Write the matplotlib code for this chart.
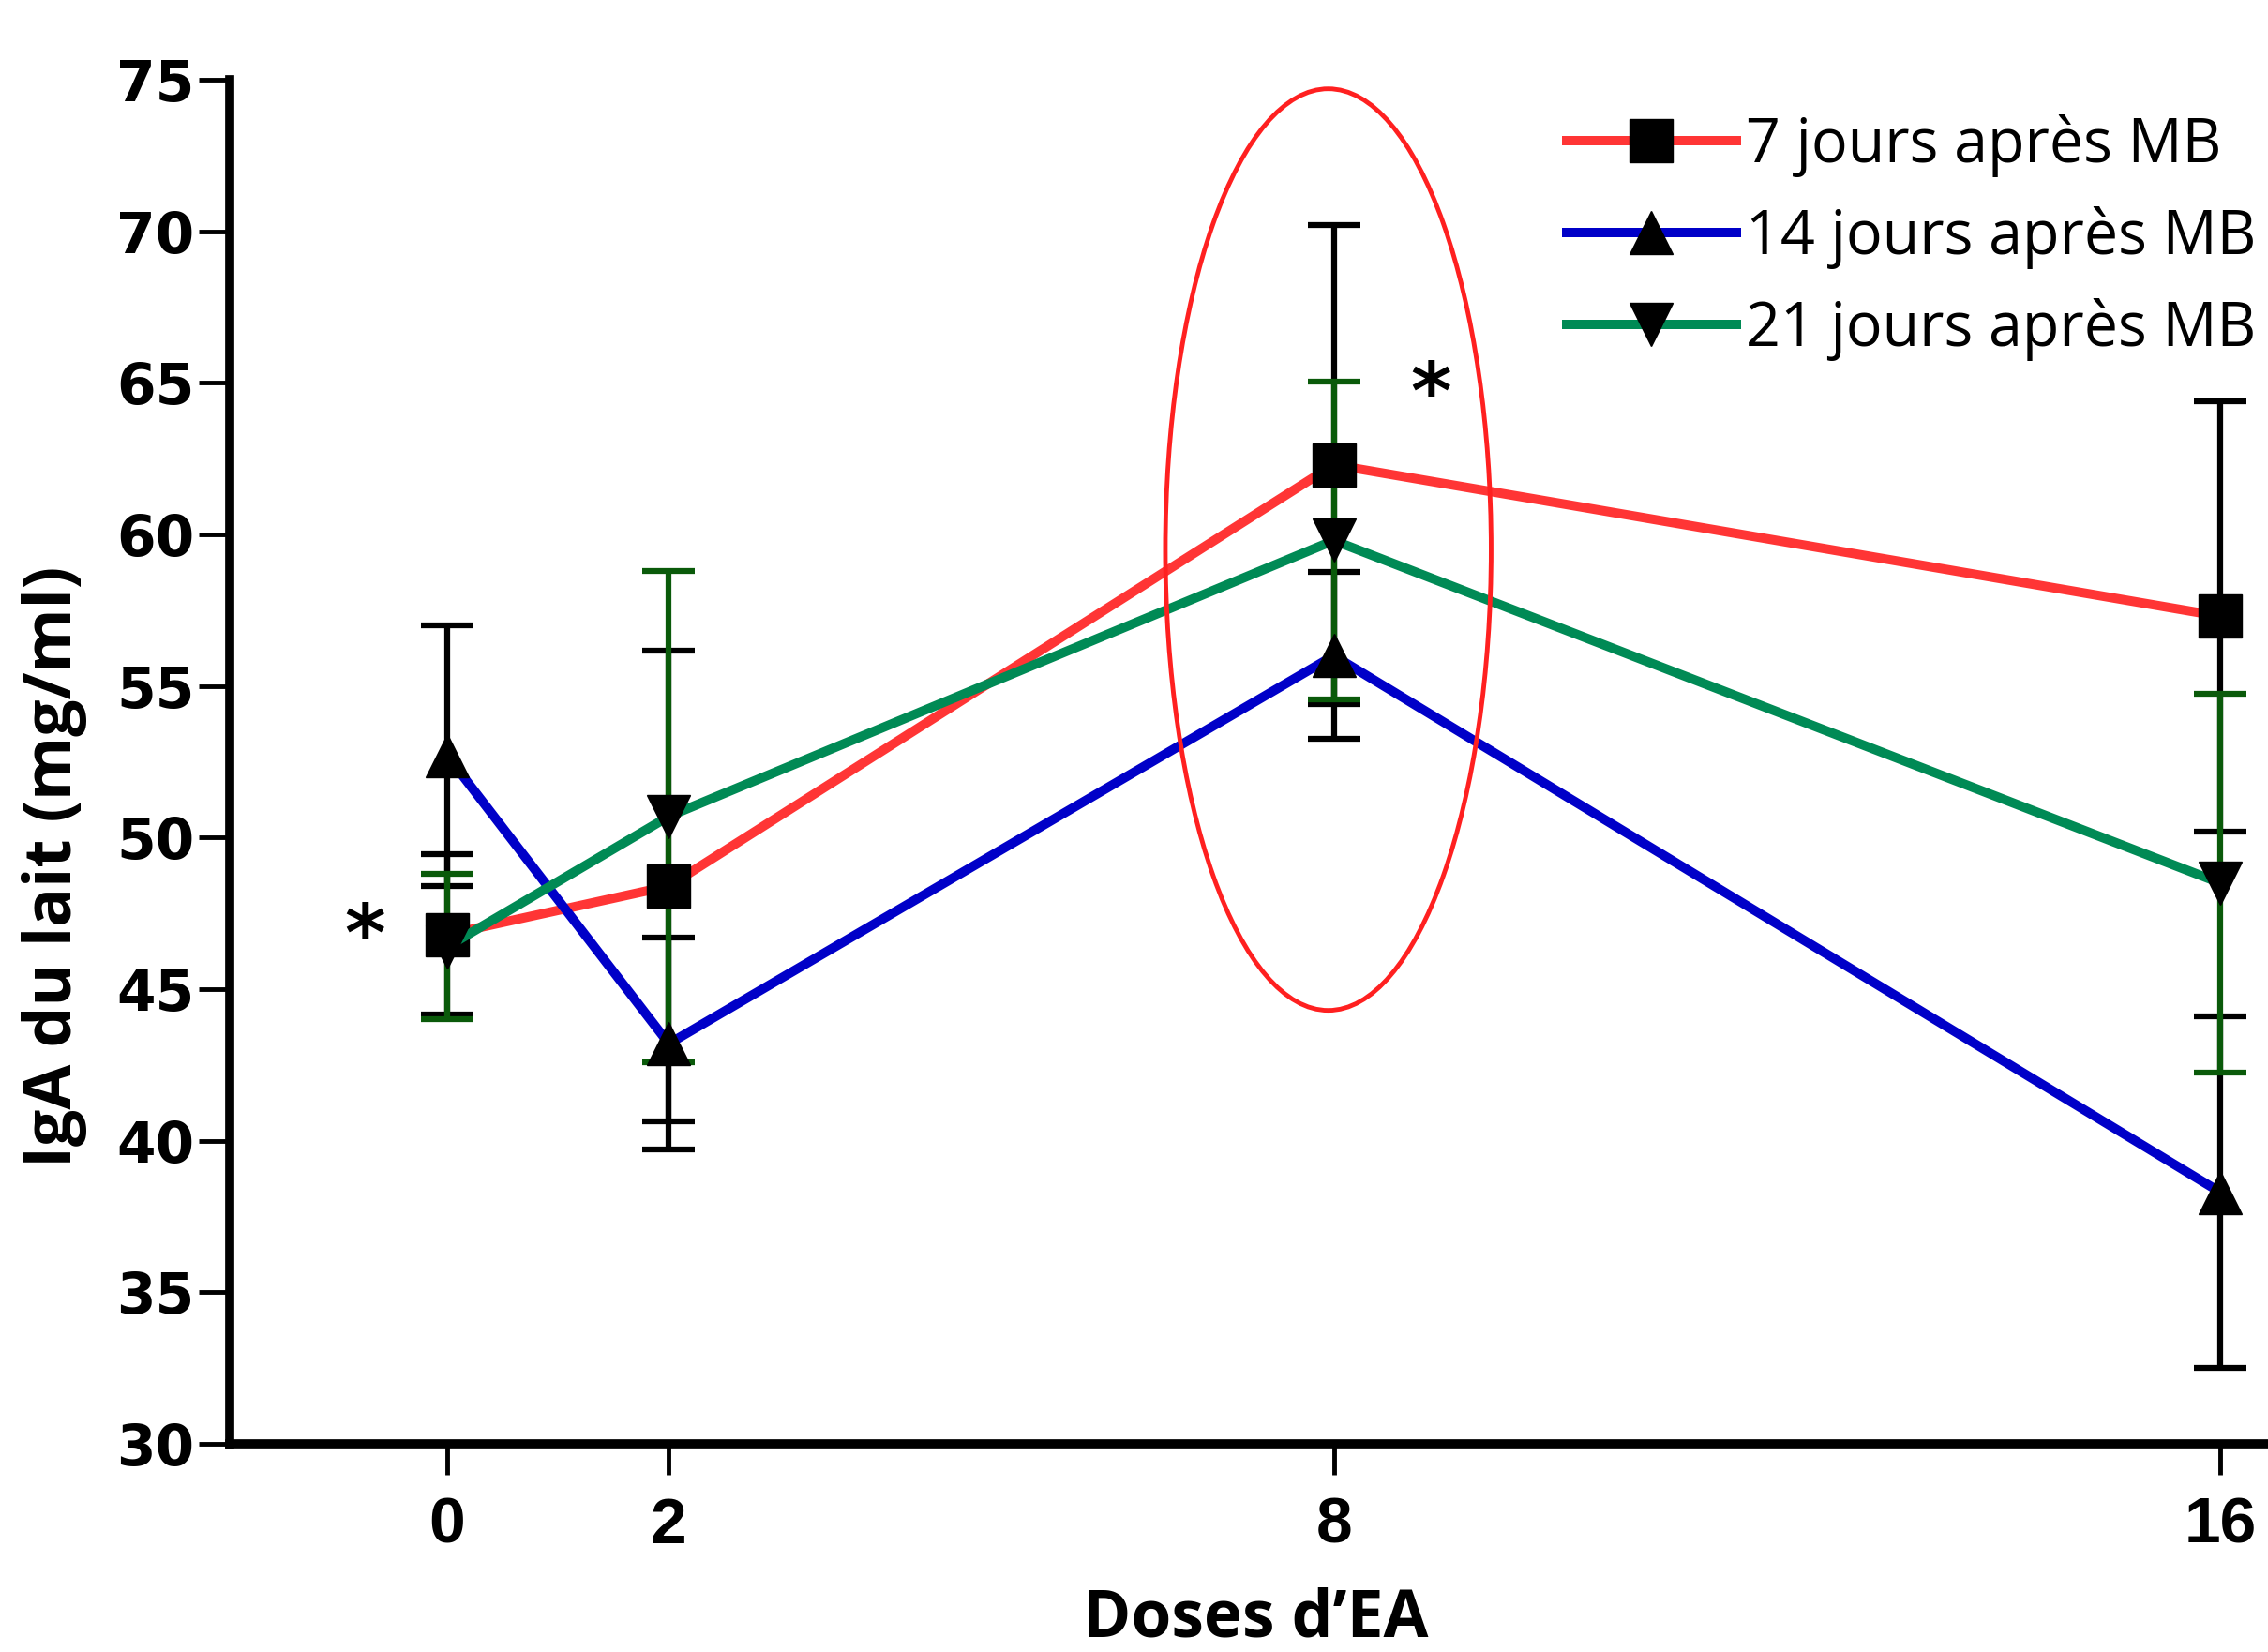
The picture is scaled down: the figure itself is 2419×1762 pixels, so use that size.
import numpy as np
import matplotlib
matplotlib.use("Agg")
from matplotlib import pyplot as plt
from matplotlib.patches import Ellipse

# doses d'EA
doses = [0, 2, 8, 16]
dose_labels = ["0", "2", "8", "16"]

# IgA du lait (mg/ml), moyenne et erreur
j7_mean = [46.8, 48.4, 62.3, 57.3]
j7_err = [2.65, 7.75, 7.9, 7.1]
j14_mean = [52.7, 43.2, 56.0, 38.3]
j14_err = [4.3, 3.5, 2.75, 5.8]
j21_mean = [46.4, 50.7, 59.8, 48.5]
j21_err = [2.4, 8.1, 5.25, 6.25]

labels = ["7 jours après MB", "14 jours après MB", "21 jours après MB"]
yticks = [30, 35, 40, 45, 50, 55, 60, 65, 70, 75]

# significance stars (x, y)
star_x = [-0.74, 8.88]
star_y = [46.7, 64.55]

W, H = 2419, 1762
fig = plt.figure(figsize=(W/100, H/100), dpi=100)
ax = fig.add_axes([245/W, 1-1540/H, 1-245/W, (1540-85)/H])

red = "#ff3535"
blue = "#0000c8"
green = "#008a55"
dgreen = "#0a5a0a"

ew = 4.5
# error bars first (black ones, then green on top)
ax.errorbar(doses, j7_mean, yerr=j7_err, fmt="none", ecolor="black",
            elinewidth=ew, capsize=20, capthick=ew, zorder=2)
ax.errorbar(doses, j14_mean, yerr=j14_err, fmt="none", ecolor="black",
            elinewidth=ew, capsize=20, capthick=ew, zorder=2)
ax.errorbar(doses, j21_mean, yerr=j21_err, fmt="none", ecolor=dgreen,
            elinewidth=ew, capsize=20, capthick=ew, zorder=3)

lw = 7.2
ms = 33
l1, = ax.plot(doses, j7_mean, color=red, lw=lw, marker="s", ms=ms,
              mfc="black", mec="black", zorder=4, label=labels[0])
l2, = ax.plot(doses, j14_mean, color=blue, lw=lw, marker="^", ms=ms,
              mfc="black", mec="black", zorder=5, label=labels[1])
l3, = ax.plot(doses, j21_mean, color=green, lw=lw, marker="v", ms=ms,
              mfc="black", mec="black", zorder=6, label=labels[2])

# red ellipse around dose 8
ell = Ellipse((7.95, 59.5), 2.94, 30.4, fill=False, edgecolor="#ff2020",
              lw=3.5, zorder=7, clip_on=False)
ax.add_patch(ell)

for sx, sy in zip(star_x, star_y):
    ax.text(sx, sy, "*", fontsize=60, fontweight="bold", ha="center",
            va="center", family="DejaVu Sans", zorder=8)

ax.set_xlim(-1.963, 16.43)
ax.set_ylim(30, 75)
ax.set_xticks(doses)
ax.set_xticklabels(dose_labels)
ax.set_yticks(yticks)

for s in ["top", "right"]:
    ax.spines[s].set_visible(False)
for s in ["left", "bottom"]:
    ax.spines[s].set_linewidth(7)
ax.tick_params(axis="both", direction="out", length=24, width=3.5, colors="black")
ax.tick_params(axis="y", pad=3)
ax.tick_params(axis="x", pad=16)
for t in ax.get_yticklabels():
    t.set_fontsize(43)
    t.set_fontweight("bold")
    t.set_family("DejaVu Sans")
for t in ax.get_xticklabels():
    t.set_fontsize(50)
    t.set_fontweight("bold")
    t.set_family("Liberation Sans")

fig.text(58/W, 1-924/H, "IgA du lait (mg/ml)", rotation=90, ha="center",
         va="center", fontsize=50, fontweight="bold", family="Open Sans")
fig.text(1339/W, 1-1728/H, "Doses d\u2019EA", ha="center", va="center",
         fontsize=50, fontweight="bold", family="Open Sans")

leg = ax.legend(handles=[l1, l2, l3], loc="upper left",
                bbox_to_anchor=(1671/W, 1-122/H), bbox_transform=fig.transFigure,
                frameon=False, handlelength=2.8, handletextpad=0.15,
                labelspacing=0.48, borderpad=0, borderaxespad=0,
                prop={"family": "Open Sans", "size": 46.5})

fig.savefig("out.png", dpi=100)
